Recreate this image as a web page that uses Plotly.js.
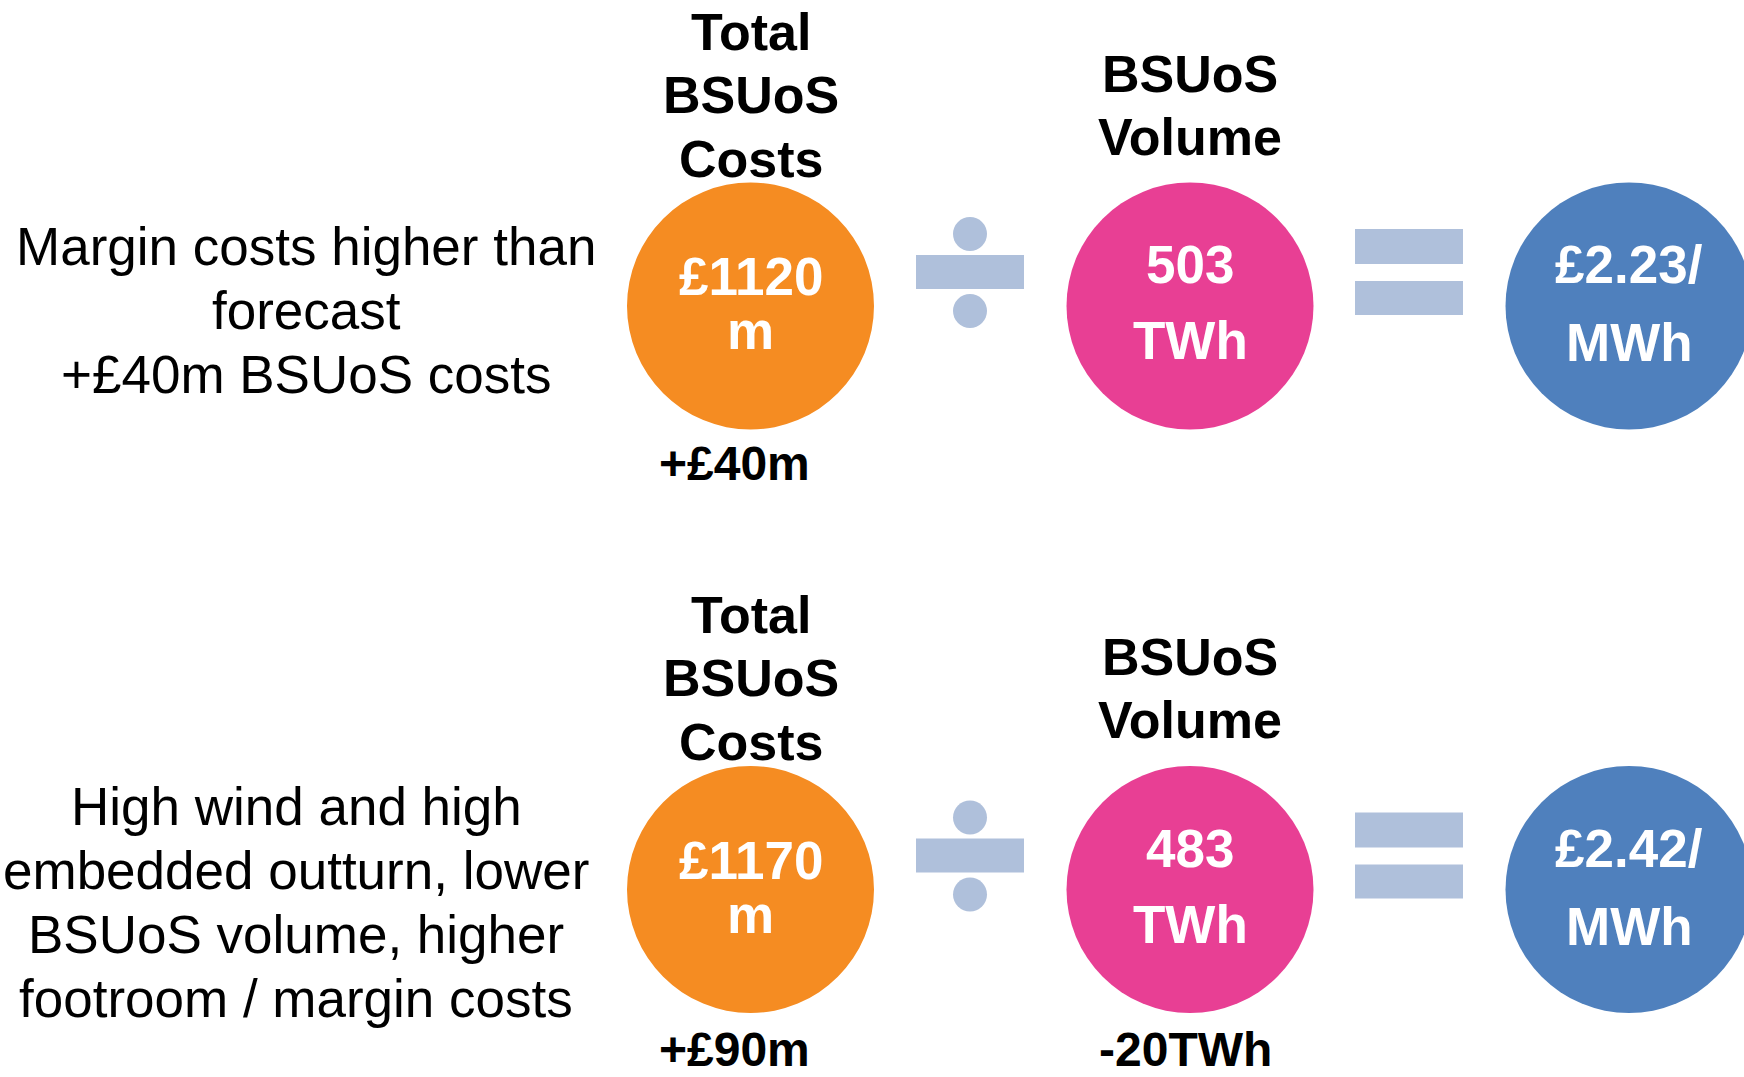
<!DOCTYPE html>
<html>
<head>
<meta charset="utf-8">
<script src="https://cdn.plot.ly/plotly-3.0.1.min.js"></script>
<style>
  html, body { margin: 0; padding: 0; background: #ffffff; }
  #chart { width: 1744px; height: 1077px; }
</style>
</head>
<body>
<div id="chart"></div>
<script>
// ---------------- DATA ----------------
const rowNotes = [
  ["Margin costs higher than", "forecast", "+£40m BSUoS costs"],
  ["High wind and high", "embedded outturn, lower", "BSUoS volume, higher", "footroom / margin costs"]
];
const costHeader = ["Total", "BSUoS", "Costs"];
const volumeHeader = ["BSUoS", "Volume"];
const costValues = [1120, 1170];      // £m
const volumeValues = [503, 483];      // TWh
const rateValues = [2.23, 2.42];      // £/MWh
const costChanges = ["+£40m", "+£90m"];
const volumeChanges = ["", "-20TWh"];

// ---------------- LAYOUT CONFIG ----------------
const W = 1744, H = 1077;
const rowY = [306, 889.5];
const noteX = [306, 296];
const noteDy = [4, 12];
const colCost = 750.5, colDiv = 970, colVol = 1190, colEq = 1409, colRate = 1629;
const R = 123.5;
const changeDy = [174, 176.5];
const colors = {orange: "#F58C22", pink: "#E83F94", blue: "#4F80BD", op: "#AFC0DB"};
const FONT = "Liberation Sans, Arial, Helvetica, sans-serif";

const shapes = [];
const annotations = [];

// annotation placed by baseline (pixel coords, y down)
function txt(x, baseline, text, size, bold, color) {
  annotations.push({
    x: x, y: baseline - 0.3465 * size, xref: "x", yref: "y",
    text: bold ? "<b>" + text + "</b>" : text,
    showarrow: false, xanchor: "center", yanchor: "middle",
    font: {family: FONT, size: size, color: color || "#000000"},
    borderpad: 0, borderwidth: 0
  });
}
function circle(cx, cy, r, color) {
  shapes.push({type: "circle", xref: "x", yref: "y",
    x0: cx - r, x1: cx + r, y0: cy - r, y1: cy + r,
    fillcolor: color, line: {width: 0}, layer: "below"});
}
function rect(x0, x1, y0, y1, color) {
  shapes.push({type: "rect", xref: "x", yref: "y", x0: x0, x1: x1, y0: y0, y1: y1,
    fillcolor: color, line: {width: 0}, layer: "below"});
}

rowY.forEach((cy, r) => {
  // left notes
  const lines = rowNotes[r];
  lines.forEach((line, i) => {
    const b = cy + noteDy[r] + (i - (lines.length - 1) / 2) * 64 + 19;
    txt(noteX[r], b, line, 53, false);
  });

  // headers
  [-256, -193, -129].forEach((dy, i) => txt(colCost, cy + dy, costHeader[i], 52, true));
  [-214, -151].forEach((dy, i) => txt(colVol, cy + dy, volumeHeader[i], 52, true));

  // circles
  circle(colCost, cy, R, colors.orange);
  circle(colVol, cy, R, colors.pink);
  circle(colRate, cy, R, colors.blue);

  // circle values
  txt(colCost, cy - 11, "£" + costValues[r], 53, true, "#ffffff");
  txt(colCost, cy + 43, "m", 53, true, "#ffffff");
  txt(colVol, cy - 23, String(volumeValues[r]), 53, true, "#ffffff");
  txt(colVol, cy + 53, "TWh", 53, true, "#ffffff");
  txt(colRate, cy - 23, "£" + rateValues[r].toFixed(2) + "/", 53, true, "#ffffff");
  txt(colRate, cy + 55, "MWh", 53, true, "#ffffff");

  // changes
  if (costChanges[r]) txt(colCost - 16, cy + changeDy[r], costChanges[r], 48, true);
  if (volumeChanges[r]) txt(colVol - 5, cy + changeDy[r], volumeChanges[r], 48, true);

  // divide sign
  rect(colDiv - 54, colDiv + 54, cy - 51, cy - 17, colors.op);
  circle(colDiv, cy - 72, 17, colors.op);
  circle(colDiv, cy + 5, 17, colors.op);

  // equals sign
  rect(colEq - 54, colEq + 54, cy - 77, cy - 42, colors.op);
  rect(colEq - 54, colEq + 54, cy - 25, cy + 9, colors.op);
});

const layout = {
  width: W, height: H,
  margin: {l: 0, r: 0, t: 0, b: 0, pad: 0},
  paper_bgcolor: "#ffffff", plot_bgcolor: "#ffffff",
  showlegend: false,
  xaxis: {range: [0, W], visible: false, fixedrange: true},
  yaxis: {range: [H, 0], visible: false, fixedrange: true},
  shapes: shapes,
  annotations: annotations
};

Plotly.newPlot("chart", [{x: [], y: [], type: "scatter", mode: "markers", hoverinfo: "skip"}], layout,
  {displayModeBar: false, staticPlot: true});
</script>
</body>
</html>
